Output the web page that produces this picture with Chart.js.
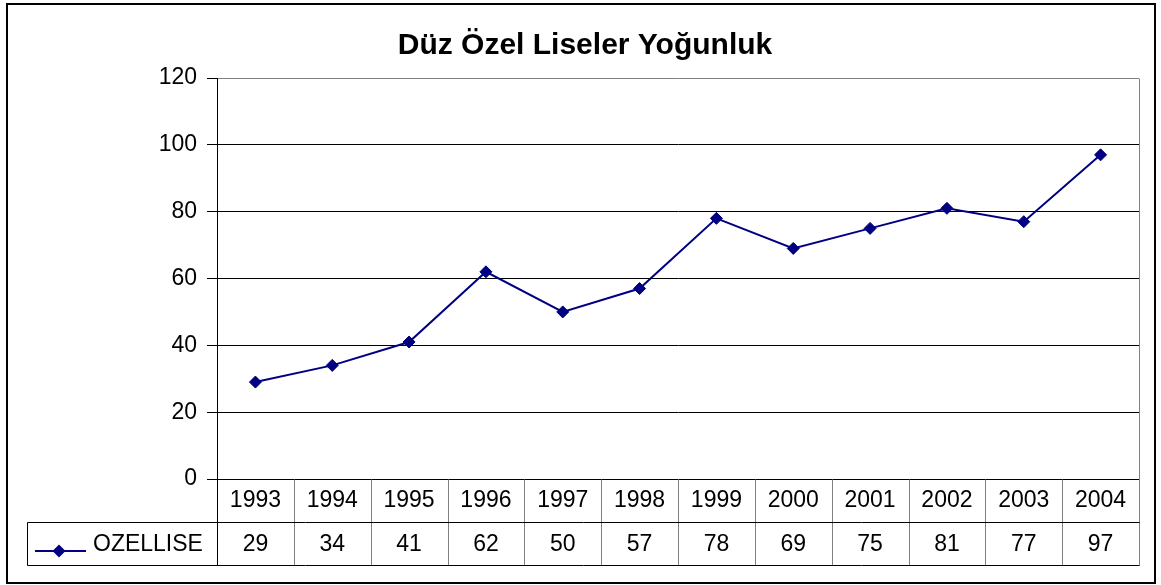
<!DOCTYPE html>
<html><head><meta charset="utf-8">
<script src="https://cdn.jsdelivr.net/npm/chart.js@4/dist/chart.umd.min.js"></script>
<style>html,body{margin:0;padding:0;background:#fff;}canvas{display:block;}</style>
</head><body>
<canvas id="c" width="1161" height="585"></canvas>
<script>
const chartTitle = 'Düz Özel Liseler Yoğunluk';
const years = ['1993','1994','1995','1996','1997','1998','1999','2000','2001','2002','2003','2004'];
const seriesName = 'OZELLISE';
const ozellise = [29, 34, 41, 62, 50, 57, 78, 69, 75, 81, 77, 97];
const yMin = 0, yMax = 120, yStep = 20;

const FONT = '"Liberation Sans", Arial, sans-serif';
const NAVY = '#000080';
const GRAY = '#808080';

const decor = {
  id: 'decor',
  beforeDraw(chart) {
    const ctx = chart.ctx;
    ctx.save();
    ctx.fillStyle = '#fff';
    ctx.fillRect(0, 0, chart.width, chart.height);
    ctx.restore();
  },
  afterDraw(chart) {
    const { ctx, chartArea: a, scales: { x } } = chart;
    ctx.save();
    // outer border
    ctx.strokeStyle = '#000';
    ctx.lineWidth = 2;
    ctx.strokeRect(7, 4, 1148, 579);
    // title
    ctx.fillStyle = '#000';
    ctx.font = 'bold 30px ' + FONT;
    ctx.textAlign = 'center';
    ctx.textBaseline = 'alphabetic';
    ctx.fillText(chartTitle, 585, 54);

    const L = Math.round(a.left) + 0.5, R = Math.round(a.right) + 0.5;
    const T = Math.round(a.top) + 0.5, B = Math.round(a.bottom) + 0.5;
    const rowH = 43;
    const r1 = B + rowH, r2 = B + 2 * rowH;
    const legendLeft = 27.5;
    // right plot border (gray)
    ctx.lineWidth = 1;
    ctx.strokeStyle = GRAY;
    ctx.beginPath();
    ctx.moveTo(R, T); ctx.lineTo(R, r2);
    ctx.stroke();
    // interior column dividers
    const n = years.length;
    const colW = (a.right - a.left) / n;
    ctx.beginPath();
    for (let i = 1; i < n; i++) {
      const cx = Math.round(x.getPixelForValue(i) - colW / 2) + 0.5;
      ctx.moveTo(cx, B); ctx.lineTo(cx, r2);
    }
    ctx.stroke();
    // black lines
    ctx.strokeStyle = '#000';
    ctx.beginPath();
    ctx.moveTo(L, B); ctx.lineTo(L, r2);
    ctx.moveTo(legendLeft, r1); ctx.lineTo(R, r1);
    ctx.moveTo(legendLeft, r2); ctx.lineTo(R, r2);
    ctx.moveTo(legendLeft, r1); ctx.lineTo(legendLeft, r2);
    ctx.stroke();

    // table text
    ctx.font = '23px ' + FONT;
    ctx.fillStyle = '#000';
    ctx.textAlign = 'center';
    ctx.textBaseline = 'middle';
    for (let i = 0; i < n; i++) {
      const cx = x.getPixelForValue(i);
      ctx.fillText(years[i], cx, B + rowH / 2);
      ctx.fillText(String(ozellise[i]), cx, r1 + rowH / 2 + 1);
    }
    // legend key
    const ly = r1 + rowH / 2 + 7;
    ctx.strokeStyle = NAVY;
    ctx.lineWidth = 2;
    ctx.beginPath();
    ctx.moveTo(35, ly); ctx.lineTo(86, ly);
    ctx.stroke();
    ctx.fillStyle = NAVY;
    ctx.beginPath();
    ctx.moveTo(59, ly - 6.5); ctx.lineTo(65.5, ly); ctx.lineTo(59, ly + 6.5); ctx.lineTo(52.5, ly);
    ctx.closePath(); ctx.fill();
    ctx.fillStyle = '#000';
    ctx.textAlign = 'left';
    ctx.fillText(seriesName, 93, r1 + rowH / 2 + 1);
    ctx.restore();
  }
};

new Chart(document.getElementById('c'), {
  type: 'line',
  data: {
    labels: years,
    datasets: [{
      label: seriesName,
      data: ozellise,
      borderColor: NAVY,
      backgroundColor: NAVY,
      borderWidth: 2,
      pointStyle: 'rectRot',
      pointRadius: 6,
      pointHoverRadius: 6,
      pointBorderWidth: 1,
      tension: 0,
      fill: false
    }]
  },
  options: {
    responsive: false,
    animation: false,
    devicePixelRatio: 1,
    layout: { padding: { left: 0, top: 78, right: 22, bottom: 106 } },
    plugins: { legend: { display: false }, title: { display: false }, tooltip: { enabled: false } },
    scales: {
      x: {
        type: 'category',
        offset: true,
        display: false
      },
      y: {
        min: yMin, max: yMax,
        afterFit(scale) { scale.width = 217; },
        ticks: {
          stepSize: yStep,
          color: '#000',
          font: { family: FONT, size: 23 },
          padding: 10
        },
        grid: {
          color: (c) => (c.tick && c.tick.value === yMax) ? GRAY : '#000',
          tickColor: '#000',
          tickLength: 10,
          lineWidth: 1
        },
        border: { color: '#000', width: 1 }
      }
    }
  },
  plugins: [decor]
});
</script>
</body></html>
